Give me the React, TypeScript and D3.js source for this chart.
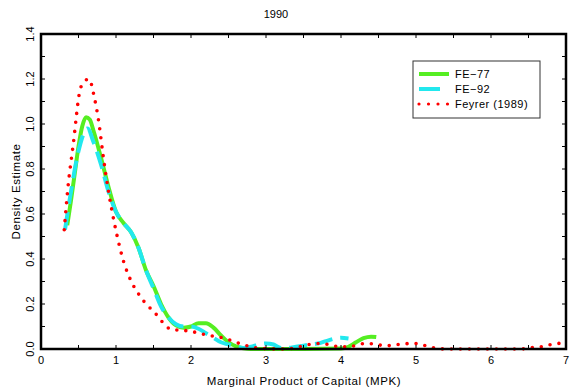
import React from "react";
import * as d3 from "d3";

// Kernel density estimates of the marginal product of capital, 1990
const fe77X = [0.35, 0.4, 0.45, 0.5, 0.55, 0.6, 0.65, 0.7, 0.8, 0.9, 1.0, 1.1, 1.2, 1.3, 1.4, 1.5, 1.6, 1.7, 1.8, 1.9, 2.0, 2.1, 2.2, 2.3, 2.4, 2.5, 2.6, 2.7, 2.8, 3.0, 3.5, 4.0, 4.1, 4.2, 4.3, 4.4, 4.47];
const fe77Y = [0.55, 0.66, 0.78, 0.9, 0.99, 1.03, 1.02, 0.97, 0.85, 0.72, 0.61, 0.56, 0.52, 0.45, 0.35, 0.28, 0.2, 0.14, 0.105, 0.095, 0.1, 0.115, 0.115, 0.095, 0.06, 0.03, 0.012, 0.003, 0.0, 0.0, 0.0, 0.002, 0.01, 0.03, 0.048, 0.055, 0.053];

const fe92X = [0.32, 0.4, 0.5, 0.62, 0.7, 0.8, 0.9, 1.0, 1.1, 1.2, 1.3, 1.4, 1.5, 1.6, 1.7, 1.8, 1.9, 2.0, 2.1, 2.2, 2.3, 2.4, 2.5, 2.6, 2.7, 2.8, 2.9, 3.0, 3.1, 3.2, 3.3, 3.4, 3.5, 3.6, 3.7, 3.8, 3.9, 4.0, 4.1];
const fe92Y = [0.53, 0.7, 0.88, 0.98, 0.92, 0.82, 0.7, 0.61, 0.56, 0.52, 0.45, 0.35, 0.27, 0.19, 0.14, 0.11, 0.1, 0.1, 0.09, 0.07, 0.05, 0.03, 0.02, 0.01, 0.005, 0.01, 0.02, 0.025, 0.02, 0.005, 0.005, 0.01, 0.015, 0.02, 0.025, 0.035, 0.045, 0.05, 0.047];

const feyrerX = [0.31, 0.36, 0.43, 0.52, 0.58, 0.64, 0.71, 0.77, 0.83, 0.9, 0.94, 1.01, 1.1, 1.19, 1.32, 1.52, 1.74, 1.97, 2.21, 2.45, 2.68, 2.92, 3.2, 3.4, 3.5, 3.62, 3.74, 3.85, 3.98, 4.1, 4.2, 4.33, 4.44, 4.56, 4.68, 4.8, 4.91, 5.03, 5.14, 5.26, 5.4, 6.4, 6.56, 6.68, 6.8, 6.91, 7.0];
const feyrerY = [0.53, 0.72, 0.91, 1.15, 1.19, 1.2, 1.12, 1.01, 0.855, 0.7, 0.625, 0.51, 0.39, 0.31, 0.235, 0.16, 0.087, 0.08, 0.062, 0.047, 0.021, 0.003, 0.0, 0.005, 0.016, 0.022, 0.025, 0.018, 0.01, 0.01, 0.016, 0.025, 0.022, 0.016, 0.015, 0.022, 0.024, 0.024, 0.013, 0.004, 0.0, 0.0, 0.007, 0.01, 0.02, 0.025, 0.027];

const xTicks = [0, 1, 2, 3, 4, 5, 6, 7];
const yTicks = [0.0, 0.2, 0.4, 0.6, 0.8, 1.0, 1.2, 1.4];
const legendLabels = ["FE\u221277", "FE\u221292", "Feyrer (1989)"];

const W = 571;
const H = 392;
const left = 41;
const right = 566;
const top = 34;
const bottom = 349;

const GREEN = "#55ee22";
const CYAN = "#22e8ee";
const RED = "#ff0000";
const FONT = "'Liberation Sans', Arial, sans-serif";

export default function App() {
  const x = d3.scaleLinear().domain([0, 7]).range([left, right]);
  const y = d3.scaleLinear().domain([0, 1.4]).range([bottom, top]);

  const line = d3
    .line<[number, number]>()
    .x((d) => x(d[0]))
    .y((d) => y(d[1]))
    .curve(d3.curveMonotoneX);

  const zip = (xs: number[], ys: number[]) => xs.map((v, i) => [v, ys[i]] as [number, number]);

  const minorX = d3.range(0, 7.01, 0.5);
  const minorY = d3.range(0, 1.401, 0.1);

  return (
    <svg width={W} height={H} style={{ display: "block", position: "absolute", left: 0, top: 0 }}>
      <rect width={W} height={H} fill="#fff" />
      <text x={276} y={18} textAnchor="middle" fontFamily={FONT} fontSize={11}>1990</text>

      {/* curves */}
      <path d={line(zip(fe77X, fe77Y)) || ""} fill="none" stroke={GREEN} strokeWidth={4} strokeLinejoin="round" />
      <path d={line(zip(fe92X, fe92Y)) || ""} fill="none" stroke={CYAN} strokeWidth={4} strokeDasharray="18 8" />
      <path d={line(zip(feyrerX, feyrerY)) || ""} fill="none" stroke={RED} strokeWidth={3.6} strokeLinecap="round" strokeDasharray="0 9" />

      {/* ticks, inward on all four sides */}
      {minorX.map((v) => (
        <g key={"tx" + v}>
          <line x1={x(v)} x2={x(v)} y1={bottom} y2={bottom - 4} stroke="#000" strokeWidth={1} />
          <line x1={x(v)} x2={x(v)} y1={top} y2={top + 4} stroke="#000" strokeWidth={1} />
        </g>
      ))}
      {minorY.map((v) => (
        <g key={"ty" + v}>
          <line x1={left} x2={left + 4} y1={y(v)} y2={y(v)} stroke="#000" strokeWidth={1} />
          <line x1={right} x2={right - 4} y1={y(v)} y2={y(v)} stroke="#000" strokeWidth={1} />
        </g>
      ))}

      {/* frame */}
      <rect x={left} y={top} width={right - left} height={bottom - top} fill="none" stroke="#000" strokeWidth={2.5} />

      {xTicks.map((v) => (
        <text key={"xl" + v} x={x(v)} y={364} textAnchor="middle" fontFamily={FONT} fontSize={11}>{v}</text>
      ))}
      {yTicks.map((v) => (
        <text key={"yl" + v} transform={`translate(34,${y(v)}) rotate(-90)`} textAnchor="middle" fontFamily={FONT} fontSize={11}>{v.toFixed(1)}</text>
      ))}

      <text x={304} y={385} textAnchor="middle" fontFamily={FONT} fontSize={11.5} letterSpacing={0.6}>Marginal Product of Capital (MPK)</text>
      <text transform={`translate(20,${(top + bottom) / 2}) rotate(-90)`} textAnchor="middle" fontFamily={FONT} fontSize={11.5} letterSpacing={0.6}>Density Estimate</text>

      {/* legend */}
      <rect x={413} y={61} width={127} height={57} fill="#fff" stroke="#333" strokeWidth={1} />
      <line x1={419} x2={449} y1={74} y2={74} stroke={GREEN} strokeWidth={4} />
      <line x1={419} x2={440} y1={89} y2={89} stroke={CYAN} strokeWidth={4} />
      <line x1={419} x2={448} y1={104} y2={104} stroke={RED} strokeWidth={3.2} strokeLinecap="round" strokeDasharray="0 9.5" />
      {legendLabels.map((t, i) => (
        <text key={t} x={[455, 455, 455][i]} y={78 + i * 15} fontFamily={FONT} fontSize={11} letterSpacing={0.5}>{t}</text>
      ))}
    </svg>
  );
}
